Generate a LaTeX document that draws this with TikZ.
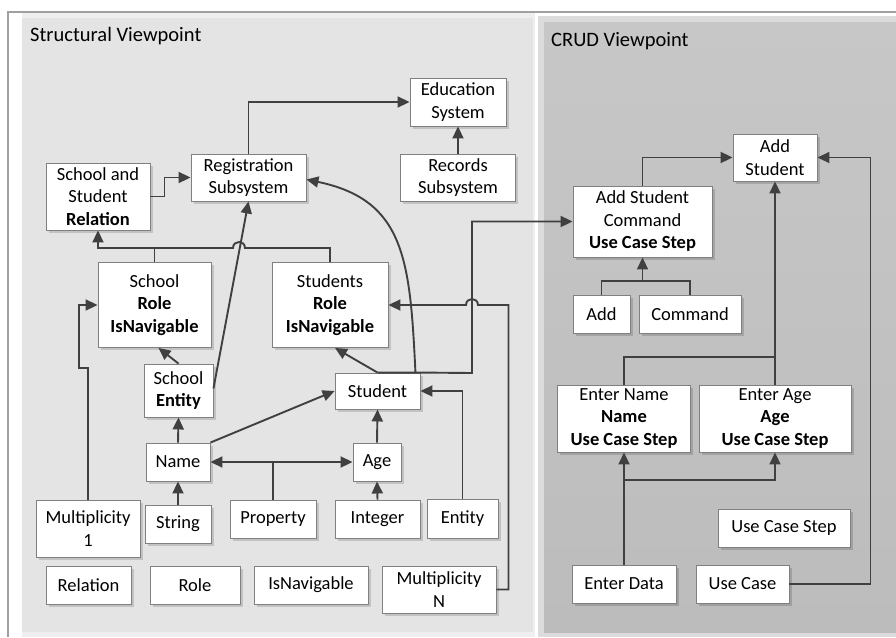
\documentclass[tikz,border=0pt]{standalone}
\usepackage{fontspec}
\setmainfont{Carlito}
\usetikzlibrary{arrows.meta,shadows,calc}
\definecolor{lc}{HTML}{404040}
\definecolor{bc}{HTML}{808080}
\definecolor{lpan}{HTML}{E4E4E4}
\definecolor{lband}{HTML}{EFEFEF}
\definecolor{rpantop}{HTML}{C7C7C7}
\definecolor{rpanbot}{HTML}{BCBCBC}
\definecolor{rband}{HTML}{DCDCDC}
\definecolor{framec}{HTML}{A0A0A0}
\newcommand{\mybox}[6]{\node[box, minimum width=#4pt, minimum height=#5pt] (#1) at (#2,#3) {#6};}
\begin{document}
\begin{tikzpicture}[x=1pt,y=-1pt,
  box/.style={draw=bc, line width=0.9pt, fill=white, align=center, inner sep=0pt,
    font=\fontsize{18.5pt}{22.5pt}\selectfont,
    drop shadow={shadow xshift=2.5pt, shadow yshift=-2.5pt, opacity=0.15, fill=black}},
  tip/.style={Triangle[length=12pt,width=11pt]},
  plain/.style={draw=lc, line width=1.9pt},
  conn/.style={plain, -{Triangle[length=12pt,width=11pt]}},
  title/.style={anchor=base west, inner sep=0pt, font=\fontsize{20.5pt}{24pt}\selectfont}]
\useasboundingbox (0,0) rectangle (896,637);
% panels
\fill[white] (0,0) rectangle (896,637);
\fill[lband] (22,12) rectangle (535,637);
\fill[lpan] (22,18) rectangle (533,632);
\fill[rband] (538,16) rectangle (896,637);
\shade[top color=rpantop, bottom color=rpanbot] (544,22) rectangle (896,632);
\draw[framec, line width=1.2pt] (8,637) -- (8,12) -- (896,12);
\node[title] (t1) at (30,41) {Structural Viewpoint};
\node[title] (t2) at (551,46) {CRUD Viewpoint};
% nodes
\mybox{edu}{458}{102}{96}{48}{Education\\System}
\mybox{rec}{458}{177.5}{115}{47}{Records\\Subsystem}
\mybox{reg}{248.5}{177.5}{115}{47}{Registration\\Subsystem}
\mybox{rel}{98}{196.5}{104}{67}{School and\\Student\\\textbf{Relation}}
\mybox{sch}{154.5}{305}{113}{85}{School\\\textbf{Role}\\\textbf{IsNavigable}}
\mybox{srl}{330}{305}{116}{85}{Students\\\textbf{Role}\\\textbf{IsNavigable}}
\mybox{sent}{178.5}{390.5}{69}{53}{School\\\textbf{Entity}}
\mybox{stu}{377.5}{391}{85}{36}{Student}
\mybox{name}{178}{462}{64}{38}{Name}
\mybox{age}{377}{462}{48}{38}{Age}
\mybox{m1}{88}{528.5}{104}{57}{Multiplicity\\1}
\mybox{str}{178}{524}{66}{38}{String}
\mybox{prop}{273}{519}{86}{38}{Property}
\mybox{int}{377.5}{519}{85}{38}{Integer}
\mybox{ent}{462.5}{518.5}{71}{39}{Entity}
\mybox{relb}{88.5}{585}{85}{38}{Relation}
\mybox{role}{195}{585}{90}{38}{Role}
\mybox{isn}{311}{585}{114}{38}{IsNavigable}
\mybox{mn}{439}{589.5}{114}{47}{Multiplicity\\N}
\mybox{as}{775}{157.5}{84}{47}{Add\\Student}
\mybox{asc}{642.5}{221.5}{139}{71}{Add Student\\Command\\\textbf{Use Case Step}}
\mybox{add}{601.5}{314}{57}{38}{Add}
\mybox{cmd}{690}{314}{102}{38}{Command}
\mybox{en}{624}{418.5}{133}{67}{Enter Name\\\textbf{Name}\\\textbf{Use Case Step}}
\mybox{ea}{775}{418.5}{152}{67}{Enter Age\\\textbf{Age}\\\textbf{Use Case Step}}
\mybox{ucs}{784}{528}{132}{38}{Use Case Step}
\mybox{ed}{624}{584}{104}{38}{Enter Data}
\mybox{uc}{742.5}{584}{93}{38}{Use Case}
% helper coordinates
\coordinate (j1) at (472,373);
\coordinate (j2) at (642.5,281);
\coordinate (j3) at (775,357);
\coordinate (j4) at (624,480);
% structural connectors
\draw[conn] (reg.north) |- (edu.west);
\draw[conn] (rec.north) -- (rec.north |- edu.south);
\draw[conn] (rel.east) -- ++(14,0) |- (reg.west);
\draw[plain] (sch.north) -- ++(0,-14.5);
\draw[conn] (srl.north) |- (245,248) .. controls (245,240) and (233,240) .. (233,248) -| (rel.south);
\draw[conn] ([yshift=2pt]sent.east) -- (reg.south);
\draw[conn] (sent.north) -- ([xshift=4pt]sch.south);
\draw[conn] (name.north) -- (sent.south);
\draw[conn] (str.north) -- (name.south);
\draw[conn] (name.north east) -- (stu.west);
\draw[plain, {Triangle[length=12pt,width=11pt]}-{Triangle[length=12pt,width=11pt]}] (name.east) -- (age.west);
\draw[plain] (prop.north) -- (prop.north |- name.east);
\draw[conn] (int.north) -- (age.south);
\draw[conn] (age.north) -- (stu.south);
\draw[conn] (stu.north) -- ([xshift=5pt]srl.south);
\draw[conn] ([xshift=-5pt]stu.north east) .. controls (410,260) and (405,200) .. ([yshift=-2pt]reg.east);
\draw[conn] (ent.north) |- (stu.east);
\draw[conn] (mn.east) -- ++(12,0) |- (478,305) .. controls (478,297) and (466,297) .. (466,305) -- (srl.east);
\draw[conn] (stu.north) -- (stu.north east) -- (j1) |- (asc.west);
\draw[conn] (m1.north) -- ++(0,-132) -- ++(-9,0) |- (sch.west);
% CRUD connectors
\draw[conn] (asc.north) |- (as.west);
\draw[plain] (add.north) |- (j2) -| (cmd.north);
\draw[conn] (j2) -- (asc.south);
\draw[conn] (ea.north) -- (as.south);
\draw[plain] (en.north) |- (j3);
\draw[conn] (ed.north) -- (en.south);
\draw[conn] (j4) -| (ea.south);
\draw[conn] (uc.east) -- ++(81,0) |- (as.east);
\end{tikzpicture}
\end{document}
